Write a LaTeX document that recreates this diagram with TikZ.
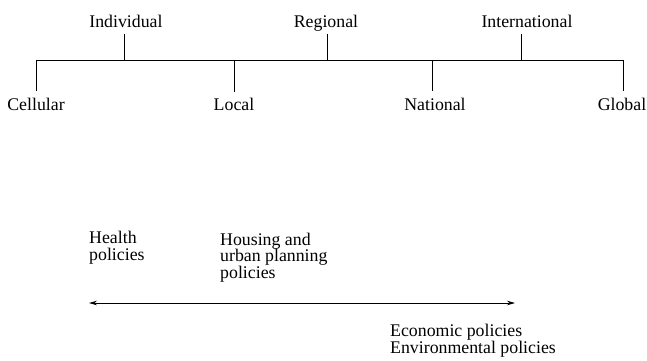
\documentclass[tikz,border=0pt]{standalone}
\usepackage{fontspec}
\setmainfont{Liberation Serif}
\usetikzlibrary{arrows.meta}
\begin{document}
\begin{tikzpicture}[x=1pt,y=-1pt,
  lbl/.style={inner sep=0pt,font=\fontsize{17.8}{18}\selectfont},
  txt/.style={inner sep=0pt,align=left,font=\fontsize{17.8}{17.5}\selectfont},
  ln/.style={line width=0.8pt}]
\useasboundingbox (0,0) rectangle (647,360);
% main line coordinates
\coordinate (cL) at (36,60);
\coordinate (cR) at (623,60);
\draw[ln] (cL) -- (cR);
% upper labels
\node[lbl,anchor=base] (ind) at (126,27) {Individual};
\node[lbl,anchor=base] (reg) at (326,27) {Regional};
\node[lbl,anchor=base] (int) at (527,27) {International};
% lower labels
\node[lbl,anchor=base] (cel) at (36,110) {Cellular};
\node[lbl,anchor=base] (loc) at (234,110) {Local};
\node[lbl,anchor=base] (nat) at (435,110) {National};
\node[lbl,anchor=base] (glo) at (622,110) {Global};
% tick coordinates
\coordinate (indT) at (124.5,34); \coordinate (indB) at (124.5,60);
\coordinate (regT) at (327.5,34); \coordinate (regB) at (327.5,60);
\coordinate (intT) at (521,34);   \coordinate (intB) at (521,60);
\coordinate (celT) at (36,60);    \coordinate (celB) at (36,91);
\coordinate (locT) at (234.5,60); \coordinate (locB) at (234.5,92);
\coordinate (natT) at (432.5,60); \coordinate (natB) at (432.5,91);
\coordinate (gloT) at (623,60);   \coordinate (gloB) at (623,91);
\draw[ln] (indT) -- (indB);
\draw[ln] (regT) -- (regB);
\draw[ln] (intT) -- (intB);
\draw[ln] (celT) -- (celB);
\draw[ln] (locT) -- (locB);
\draw[ln] (natT) -- (natB);
\draw[ln] (gloT) -- (gloB);
% policies (base = last line's baseline)
\node[txt,anchor=base west] (hea) at (89,260) {Health\\[-1pt]policies};
\node[txt,anchor=base west] (hou) at (220,278) {Housing and\\[-1pt]urban planning\\[-1pt]policies};
\node[txt,anchor=base west] (eco) at (390,353) {Economic policies\\[-1pt]Environmental policies};
\coordinate (aL) at (89,303);
\coordinate (aR) at (515,303);
\draw[ln,{Stealth[length=8pt,width=4.5pt]}-{Stealth[length=8pt,width=4.5pt]}] (aL) -- (aR);
\end{tikzpicture}
\end{document}
